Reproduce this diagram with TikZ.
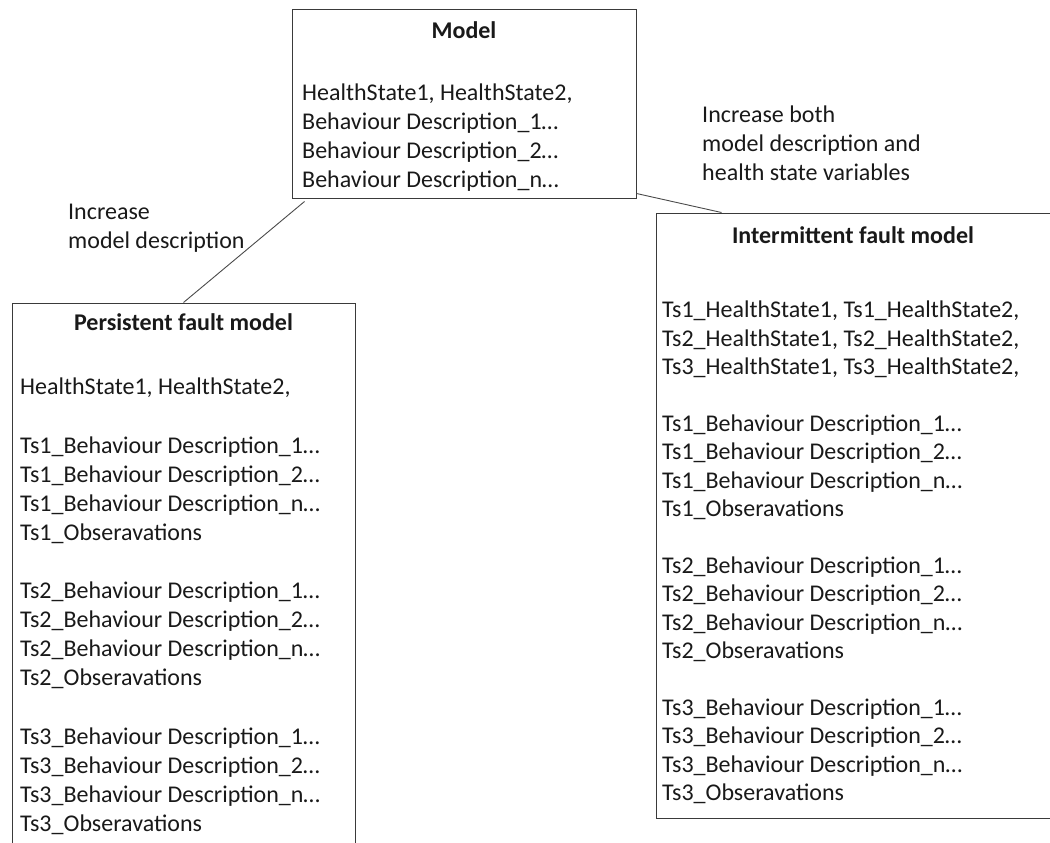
\documentclass[tikz,border=0pt]{standalone}
\usepackage{fontspec}
\setmainfont{Carlito}
\usepackage{tikz}
\usetikzlibrary{positioning}
\definecolor{BoxLine}{HTML}{3A3A3A}
\definecolor{LinkLine}{HTML}{4A4A4A}

\begin{document}
\begin{tikzpicture}[x=1pt,y=-1pt,
  every node/.style={font=\fontsize{24}{28.7}\selectfont,inner sep=0pt,text=black!90},
  modelbox/.style={draw=BoxLine,line width=1pt,rectangle},
  boxtitle/.style={font=\fontsize{24}{28.7}\selectfont\bfseries,anchor=center},
  boxbody/.style={align=left,anchor=north west},
  linklabel/.style={align=left,anchor=north west},
  link/.style={draw=LinkLine,line width=0.9pt}
]
  \useasboundingbox (0,0) rectangle (1050,843);

  \node[modelbox,minimum width=344pt,minimum height=188pt] (model) at (464,104) {};
  \node[modelbox,minimum width=343pt,minimum height=567pt] (persist) at (183.5,586.5) {};
  \node[modelbox,minimum width=398pt,minimum height=605pt] (intermit) at (855,515.5) {};

  \node[boxtitle] (modeltitle) at (464,30) {Model};
  \node[boxbody,font=\fontsize{24}{29}\selectfont] (modelbody) at (302,84)
    {HealthState1, HealthState2,\\
     Behaviour Description\_1\ldots\\
     Behaviour Description\_2\ldots\\
     Behaviour Description\_n\ldots};

  \node[boxtitle] (persisttitle) at (183.5,322) {Persistent fault model};
  \node[boxbody,font=\fontsize{24}{29.1}\selectfont] (persistbody) at (20,378)
    {HealthState1, HealthState2,\\[29.1pt]
     Ts1\_Behaviour Description\_1\ldots\\
     Ts1\_Behaviour Description\_2\ldots\\
     Ts1\_Behaviour Description\_n\ldots\\
     Ts1\_Obseravations\\[29.1pt]
     Ts2\_Behaviour Description\_1\ldots\\
     Ts2\_Behaviour Description\_2\ldots\\
     Ts2\_Behaviour Description\_n\ldots\\
     Ts2\_Obseravations\\[29.1pt]
     Ts3\_Behaviour Description\_1\ldots\\
     Ts3\_Behaviour Description\_2\ldots\\
     Ts3\_Behaviour Description\_n\ldots\\
     Ts3\_Obseravations};

  \node[boxtitle] (intermittitle) at (853,235) {Intermittent fault model};
  \node[boxbody,font=\fontsize{24}{28.4}\selectfont] (intermitbody) at (662,301)
    {Ts1\_HealthState1, Ts1\_HealthState2,\\
     Ts2\_HealthState1, Ts2\_HealthState2,\\
     Ts3\_HealthState1, Ts3\_HealthState2,\\[28.4pt]
     Ts1\_Behaviour Description\_1\ldots\\
     Ts1\_Behaviour Description\_2\ldots\\
     Ts1\_Behaviour Description\_n\ldots\\
     Ts1\_Obseravations\\[28.4pt]
     Ts2\_Behaviour Description\_1\ldots\\
     Ts2\_Behaviour Description\_2\ldots\\
     Ts2\_Behaviour Description\_n\ldots\\
     Ts2\_Obseravations\\[28.4pt]
     Ts3\_Behaviour Description\_1\ldots\\
     Ts3\_Behaviour Description\_2\ldots\\
     Ts3\_Behaviour Description\_n\ldots\\
     Ts3\_Obseravations};

  \node[linklabel] (leftlabel) at (68,204) {Increase\\model description};
  \node[linklabel] (rightlabel) at (702,106)
    {Increase both\\model description and\\health state variables};

  \draw[link] ([xshift=13pt,yshift=-3pt]model.south west) -- (persist.north);
  \draw[link] ([yshift=5pt]model.south east) -- ([xshift=66pt]intermit.north west);
\end{tikzpicture}
\end{document}
